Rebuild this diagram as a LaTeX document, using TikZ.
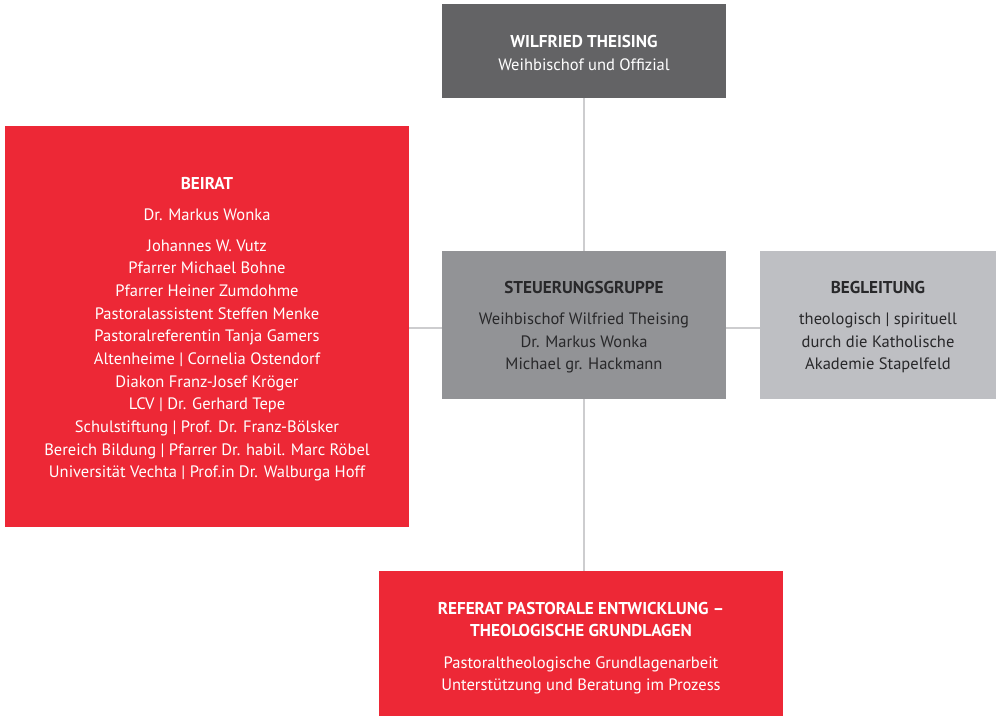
\documentclass[tikz,border=0pt]{standalone}
\usepackage{fontspec}
\setmainfont{PT Sans}
\usepackage{xcolor}
\usepackage{tikz}
\definecolor{bistumred}{RGB}{237,40,54}
\definecolor{leaddark}{RGB}{99,99,101}
\definecolor{groupgray}{RGB}{146,147,150}
\definecolor{advisegray}{RGB}{190,191,195}
\definecolor{linkgray}{RGB}{205,205,207}
\definecolor{textdark}{RGB}{40,40,42}
\newcommand{\orgtitle}[1]{{\fontsize{9.75}{12.9}\selectfont\bfseries #1}}

\begin{document}
\begin{tikzpicture}[x=0.02cm, y=-0.02cm,
    orgbox/.style={rectangle, inner sep=0pt},
    orgtext/.style={inner sep=0pt, align=center, font=\fontsize{9.4}{12.9}\selectfont},
    link/.style={draw=linkgray, line width=0.6pt}]
    \useasboundingbox (0,0) rectangle (1001,716);

    % boxes
    \node[orgbox, fill=leaddark, minimum width=284*0.02cm, minimum height=94*0.02cm] (bishop) at (584,51) {};
    \node[orgbox, fill=groupgray, minimum width=284*0.02cm, minimum height=148*0.02cm] (steering) at (584,325) {};
    \node[orgbox, fill=advisegray, minimum width=236*0.02cm, minimum height=148*0.02cm] (support) at (878,325) {};
    \node[orgbox, fill=bistumred, minimum width=404*0.02cm, minimum height=401*0.02cm] (council) at (207,326.5) {};
    \node[orgbox, fill=bistumred, minimum width=404*0.02cm, minimum height=145*0.02cm] (office) at (581,643.5) {};

    % texts
    \node[orgtext, text=white, yshift=-1.2pt] (bishoptext) at (bishop) {\orgtitle{WILFRIED THEISING}\\Weihbischof und Offizial};
    \node[orgtext, text=textdark, yshift=-1.2pt] (steeringtext) at (steering) {\orgtitle{STEUERUNGSGRUPPE}\\[4.8pt]Weihbischof Wilfried Theising\\Dr. Markus Wonka\\Michael gr. Hackmann};
    \node[orgtext, text=textdark, yshift=-1.2pt] (supporttext) at (support) {\orgtitle{BEGLEITUNG}\\[4.8pt]theologisch | spirituell\\durch die Katholische\\Akademie Stapelfeld};
    \node[orgtext, text=white, yshift=-1.7pt] (counciltext) at (council) {\orgtitle{BEIRAT}\\[4.5pt]Dr. Markus Wonka\\[4.5pt]Johannes W. Vutz\\Pfarrer Michael Bohne\\Pfarrer Heiner Zumdohme\\Pastoralassistent Steffen Menke\\Pastoralreferentin Tanja Gamers\\Altenheime | Cornelia Ostendorf\\Diakon Franz-Josef Kröger\\LCV | Dr. Gerhard Tepe\\Schulstiftung | Prof. Dr. Franz-Bölsker\\Bereich Bildung | Pfarrer Dr. habil. Marc Röbel\\Universität Vechta | Prof.in Dr. Walburga Hoff};
    \node[orgtext, text=white, yshift=-2.6pt] (officetext) at (office) {\orgtitle{REFERAT PASTORALE ENTWICKLUNG –}\\\orgtitle{THEOLOGISCHE GRUNDLAGEN}\\[5pt]Pastoraltheologische Grundlagenarbeit\\Unterstützung und Beratung im Prozess};

    % connectors
    \draw[link] (bishop.south) -- (steering.north);
    \draw[link] (steering.south) -- (office.north -| steering.south);
    \draw[link] ([yshift=-0.06cm]steering.west) -- ([yshift=-0.06cm]steering.west -| council.east);
    \draw[link] ([yshift=-0.06cm]steering.east) -- ([yshift=-0.06cm]steering.east -| support.west);
\end{tikzpicture}
\end{document}
